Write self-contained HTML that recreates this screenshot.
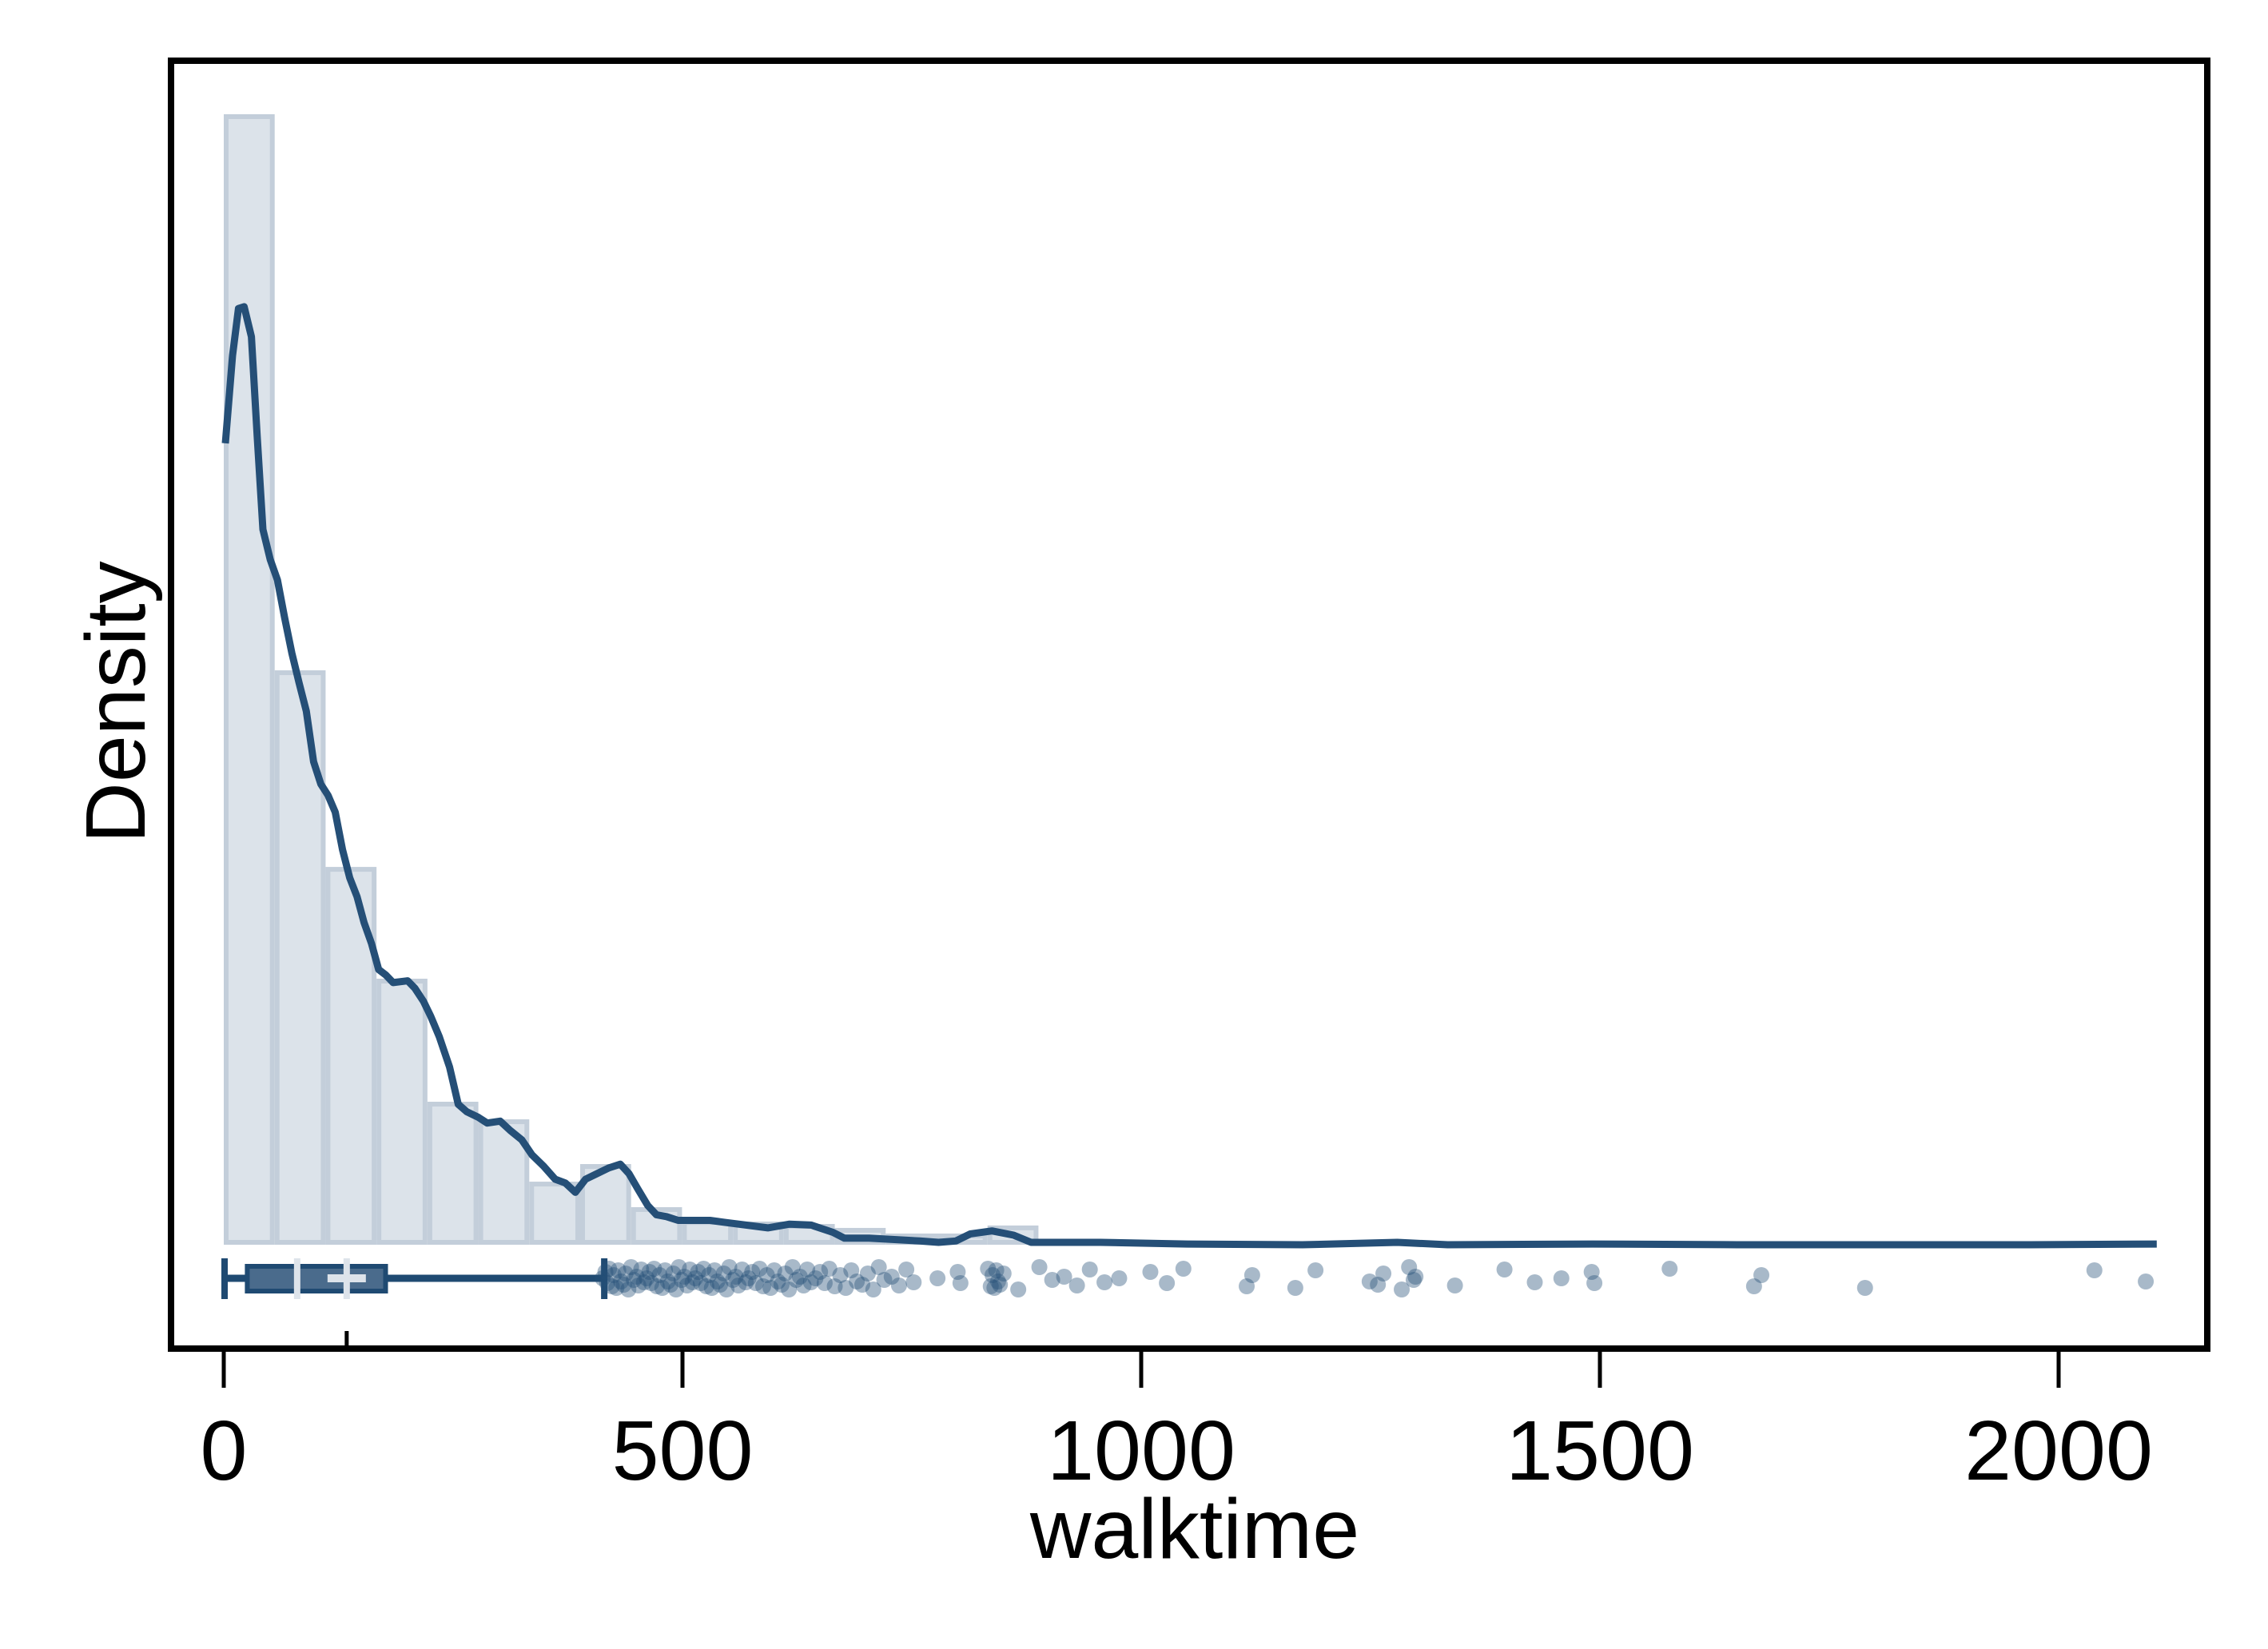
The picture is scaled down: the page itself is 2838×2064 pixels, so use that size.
<!DOCTYPE html>
<html><head><meta charset="utf-8"><style>
html,body{margin:0;padding:0;background:#fff;}
svg{display:block;font-family:"Liberation Sans",Arial,sans-serif;}
</style></head><body>
<svg id="chart" width="2838" height="2064" viewBox="0 0 2838 2064" xmlns="http://www.w3.org/2000/svg">
<rect x="0" y="0" width="2838" height="2064" fill="#fff"/>
<g id="bars"></g>
<g id="curve"></g>
<g id="box"></g>
<g id="pts"></g>
<rect x="214" y="76" width="2548" height="1612" fill="none" stroke="#000" stroke-width="8"/>
<g id="axis"></g>
<text x="1495" y="1950" font-size="106" text-anchor="middle">walktime</text>
<text transform="translate(181,879) rotate(-90)" font-size="106" text-anchor="middle">Density</text>
</svg>
<script>
// ---- data ----
const binWidth = 55.5;
const binDensity = [60.25,30.55,20.05,14.08,7.51,6.57,3.24,4.18,1.88,1.19,1.11,0.98,0.77,0.47,0.47,0.90];
const kdeX = [1.7,9.6,16,22.2,30.1,36.4,42.7,50.6,58.5,66.3,74.2,82.1,90,97.9,105.8,113.7,121.5,129.4,137.3,145.2,153,161,168.8,176.7,184.6,200.4,208.3,217.7,225.6,235,246.1,255.6,265,277.6,287.1,301.3,312.3,324.9,336,348.6,361.2,372.3,383.3,394.3,407,419.6,432.2,441.6,451.1,462.1,471.6,482.6,495.3,530,545.7,593,616.7,640.3,664,676.6,703.4,758.5,779.1,798,813.8,837.4,861,880,955.7,1050,1176,1279,1334,1492,1650,1807,1965,2107];
const kdeY = [42.8,47.5,50.0,50.1,48.5,43.2,38.2,36.6,35.5,33.5,31.6,30.0,28.5,25.8,24.6,24.0,23.1,21.1,19.6,18.6,17.2,16.1,14.7,14.4,14.0,14.1,13.7,13.0,12.2,11.1,9.5,7.5,7.1,6.8,6.5,6.6,6.1,5.6,4.8,4.2,3.5,3.3,2.8,3.5,3.8,4.1,4.3,3.8,3.0,2.1,1.6,1.5,1.3,1.3,1.2,0.9,1.1,1.05,0.66,0.35,0.35,0.20,0.13,0.20,0.58,0.74,0.51,0.13,0.13,0.04,0,0.13,0,0.04,0,0,0,0.04];
const boxStats = [0,23,80,134,179,413]; // min, q1, median, mean, q3, upper whisker
const outliers = [413,416,418,420,423,425,428,430,433,436,438,441,444,447,450,452,455,458,461,464,466,469,472,475,478,481,484,487,490,493,496,499,502,505,508,511,514,517,520,523,526,529,532,535,538,541,545,548,551,555,558,561,565,569,572,576,580,584,588,592,596,600,604,608,612,616,620,624,628,632,636,640,645,650,655,660,666,672,678,684,690,696,702,708,714,720,728,736,744,752,778,800,803,833,836,838,840,842,844,846,850,866,889,903,916,930,944,960,976,1010,1028,1046,1115,1121,1168,1190,1249,1258,1264,1284,1292,1297,1299,1342,1396,1429,1458,1491,1494,1576,1668,1676,1789,2039,2095];
const jitter = [0,-8,6,-12,10,-4,12,-10,4,8,-6,14,-14,2,-2,9,-11,5];
const tickValues = [0,500,1000,1500,2000];
const tickLabels = ["0","500","1000","1500","2000"];
// ---- scales ----
const NS = "http://www.w3.org/2000/svg";
const X0 = 280, XS = 1.148, BASE = 1558, YS = 23.436, BOXY = 1600;
function xs(v){ return X0 + v*XS; }
function ys(d){ return BASE - d*YS; }
function mk(tag, attrs, parent){ const e=document.createElementNS(NS,tag); for(const k in attrs) e.setAttribute(k,attrs[k]); parent.appendChild(e); return e; }
// bars
const gb=document.getElementById('bars');
binDensity.forEach((d,i)=>{
  const x1=xs(i*binWidth), x2=xs((i+1)*binWidth);
  const r=mk('rect',{x:x1+3,y:ys(d),width:x2-x1-6,height:BASE-ys(d)-3,fill:'#dce3ea',stroke:'#c3ceda','stroke-width':6},gb);
  
  
});
// curve
const gc=document.getElementById('curve');
const dstr=kdeX.map((x,i)=>(i?'L':'M')+xs(x).toFixed(1)+','+ys(kdeY[i]).toFixed(1)).join(' ');
const pth=mk('path',{d:dstr,fill:'none',stroke:'#254f77','stroke-width':9,'stroke-linejoin':'round'},gc);


// boxplot
const gx=document.getElementById('box');
const [mn,q1,med,mean,q3,uw]=boxStats;
let e;
e=mk('line',{x1:xs(mn),x2:xs(uw),y1:BOXY,y2:BOXY,stroke:'#1f4a72','stroke-width':9},gx);


e=mk('line',{x1:xs(mn)+1,x2:xs(mn)+1,y1:BOXY-25,y2:BOXY+26,stroke:'#1f4a72','stroke-width':8},gx);


e=mk('line',{x1:xs(uw)+2,x2:xs(uw)+2,y1:BOXY-25,y2:BOXY+26,stroke:'#1f4a72','stroke-width':8},gx);


e=mk('rect',{x:xs(q1)+3,y:BOXY-15,width:xs(q3)-xs(q1)-6,height:31,fill:'#4a6b8c',stroke:'#1f4a72','stroke-width':6},gx);


e=mk('line',{x1:xs(med),x2:xs(med),y1:BOXY-25,y2:BOXY+26,stroke:'#dde3ea','stroke-width':8},gx);


e=mk('line',{x1:xs(mean),x2:xs(mean),y1:BOXY-25,y2:BOXY+26,stroke:'#dde3ea','stroke-width':8},gx);


e=mk('line',{x1:xs(mean)-24,x2:xs(mean)+24,y1:BOXY,y2:BOXY,stroke:'#dde3ea','stroke-width':10},gx);


// outliers
const gp=document.getElementById('pts');
outliers.forEach((v,i)=>{
  const c=mk('circle',{cx:xs(v),cy:BOXY+jitter[i%jitter.length],r:10,fill:'rgba(37,79,119,0.4)'},gp);
  
  
});
// axis
const ga=document.getElementById('axis');
tickValues.forEach((v,i)=>{
  const t=mk('line',{x1:xs(v),x2:xs(v),y1:1692,y2:1737,stroke:'#000','stroke-width':5},ga);
  
  
  const l=mk('text',{x:xs(v),y:1852,'font-size':106,'text-anchor':'middle'},ga);
  l.textContent=tickLabels[i];
  
  
});
const mt=mk('line',{x1:xs(mean),x2:xs(mean),y1:1666,y2:1686,stroke:'#000','stroke-width':5},ga);


</script>
</body></html>
